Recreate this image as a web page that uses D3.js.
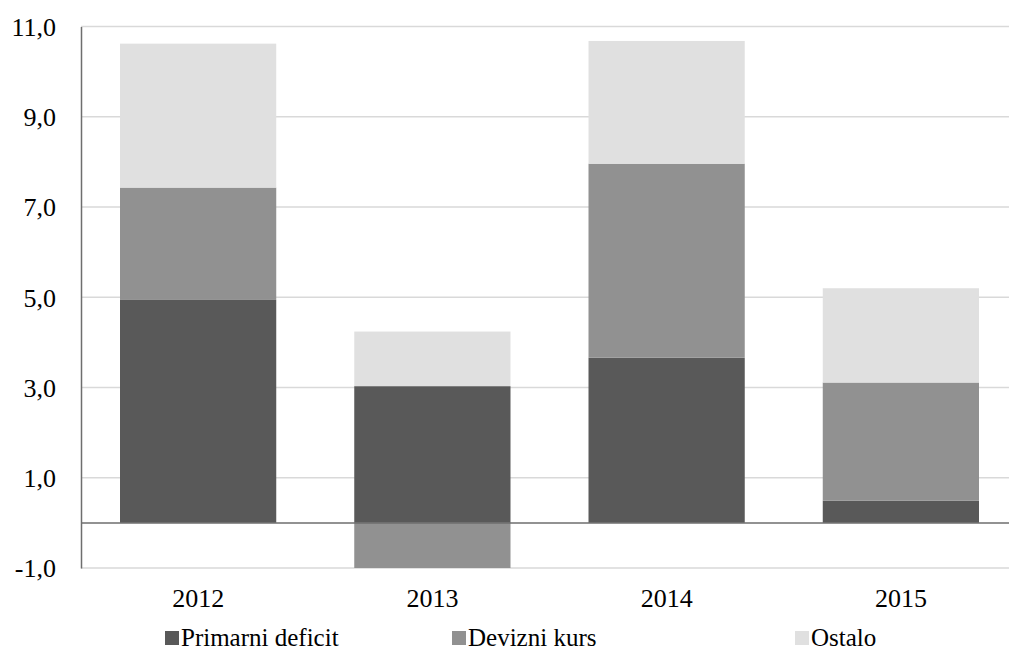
<!DOCTYPE html>
<html lang="sr">
<head>
  <meta charset="utf-8">
  <title>Struktura promene javnog duga</title>
  <script src="https://d3js.org/d3.v7.min.js"></script>
  <style>
    body { margin: 0; background: #fff; }
    svg text { font-family: 'Liberation Serif', 'Times New Roman', Times, serif; }
  </style>
</head>
<body>
<div id="chart"></div>
<script>
// data
var years = ["2012", "2013", "2014", "2015"];
var primarniDeficit = [4.94, 3.03, 3.66, 0.49];
var devizniKurs = [2.49, -1.0, 4.30, 2.62];
var ostalo = [3.19, 1.21, 2.72, 2.09];
var seriesNames = ["Primarni deficit", "Devizni kurs", "Ostalo"];
var yTicks = [-1, 1, 3, 5, 7, 9, 11];

var colors = ["#595959", "#919191", "#e0e0e0"];
var serif = "'Liberation Serif', 'Times New Roman', Times, serif";
var fontSize = 26;

var W = 1009, H = 652;
var margin = {top: 26.5, right: -9, bottom: 84, left: 81};
var width = W - margin.left - margin.right,
    height = H - margin.top - margin.bottom;

var root = d3.select("#chart")
  .append("svg")
    .attr("width", W)
    .attr("height", H)
    .attr("font-family", serif);

var svg = root.append("g")
    .attr("transform", "translate(" + margin.left + "," + margin.top + ")");

var x = d3.scaleBand()
  .domain(years)
  .range([0, width])
  .paddingInner(0.333)
  .paddingOuter(0.1665);

var y = d3.scaleLinear()
  .domain([-1, 11])
  .range([height, 0]);

var fmt = function(v) { return d3.format(".1f")(v).replace(".", ",").replace("−", "-"); };

// gridlines
svg.append("g")
  .selectAll("line")
  .data(yTicks)
  .enter()
  .append("line")
    .attr("x1", 0)
    .attr("x2", width)
    .attr("y1", function(d) { return y(d); })
    .attr("y2", function(d) { return y(d); })
    .attr("stroke", "#d9d9d9")
    .attr("stroke-width", 1.3);

// stack: positives go up from 0, negatives go down from 0
var table = years.map(function(yr, i) {
  return {year: yr, vals: [primarniDeficit[i], devizniKurs[i], ostalo[i]]};
});
var segs = [];
table.forEach(function(row) {
  var pos = 0, neg = 0;
  row.vals.forEach(function(v, k) {
    if (v >= 0) { segs.push({year: row.year, k: k, y0: pos, y1: pos + v}); pos += v; }
    else { segs.push({year: row.year, k: k, y0: neg + v, y1: neg}); neg += v; }
  });
});

svg.append("g")
  .selectAll("rect")
  .data(segs)
  .enter()
  .append("rect")
    .attr("x", function(d) { return x(d.year); })
    .attr("width", x.bandwidth())
    .attr("y", function(d) { return y(d.y1); })
    .attr("height", function(d) { return y(d.y0) - y(d.y1); })
    .attr("fill", function(d) { return colors[d.k]; });

// zero line
svg.append("line")
  .attr("x1", 0).attr("x2", width)
  .attr("y1", y(0)).attr("y2", y(0))
  .attr("stroke", "#6e6e6e")
  .attr("stroke-width", 1.5);

// y axis
var yAxis = svg.append("g")
  .call(d3.axisLeft(y).tickValues(yTicks).tickFormat(fmt).tickSize(0).tickPadding(25));
yAxis.attr("font-family", serif).attr("font-size", fontSize);
yAxis.select(".domain").attr("stroke", "#6e6e6e").attr("stroke-width", 1.5);
yAxis.selectAll("text").attr("fill", "#000").attr("dy", "0.34em");

// x labels
var xAxis = svg.append("g")
  .attr("transform", "translate(0," + height + ")")
  .call(d3.axisBottom(x).tickSize(0).tickPadding(21));
xAxis.attr("font-family", serif).attr("font-size", fontSize);
xAxis.select(".domain").remove();
xAxis.selectAll("text").attr("fill", "#000");

// legend (font a touch smaller so descenders stay inside the frame)
var legendX = [165, 452, 795];
var legend = root.append("g")
  .attr("font-family", serif)
  .attr("font-size", 25)
  .selectAll("g")
  .data(seriesNames)
  .enter()
  .append("g")
    .attr("transform", function(d, i) { return "translate(" + legendX[i] + ",631)"; });
legend.append("rect")
  .attr("width", 14).attr("height", 14)
  .attr("fill", function(d, i) { return colors[i]; });
legend.append("text")
  .attr("x", 16).attr("y", 7).attr("dy", "0.33em")
  .attr("fill", "#000")
  .text(function(d) { return d; });
</script>
</body>
</html>
